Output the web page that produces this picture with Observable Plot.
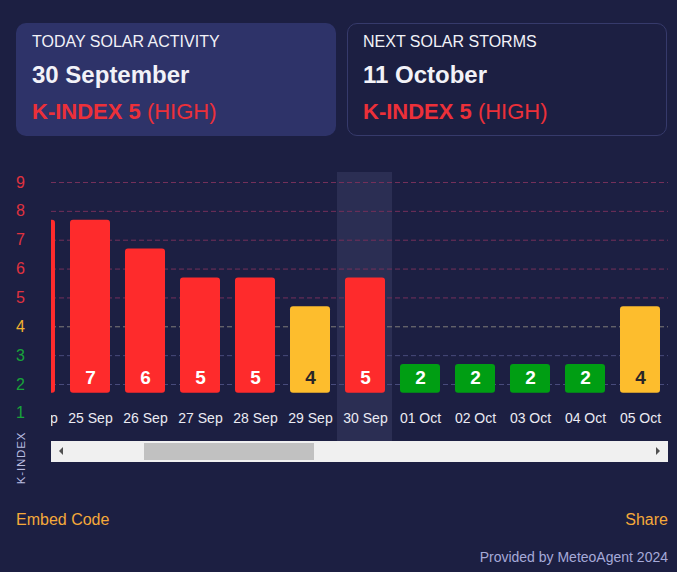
<!DOCTYPE html>
<html>
<head>
<meta charset="utf-8">
<script src="https://cdn.jsdelivr.net/npm/d3@7"></script>
<script src="https://cdn.jsdelivr.net/npm/@observablehq/plot@0.6"></script>
<style>
  html, body { margin: 0; padding: 0; }
  body { width: 677px; height: 572px; background: #1c1f42; position: relative; overflow: hidden;
         font-family: "Liberation Sans", Arial, sans-serif; color: #f2f2f8; }
  .card { position: absolute; top: 23px; height: 113px; width: 320px; border-radius: 10px; box-sizing: border-box; }
  .card .t { position: absolute; left: 16px; top: 9px; font-size: 16px; line-height: 20px; white-space: nowrap; }
  .card .d { position: absolute; left: 16px; top: 38px; font-size: 24px; line-height: 28px; font-weight: bold; white-space: nowrap; }
  .card .k { position: absolute; left: 16px; top: 75px; font-size: 22px; line-height: 28px; color: #ec3039; white-space: nowrap; }
  .card .k b { font-weight: bold; }
  #chart { position: absolute; left: 0; top: 160px; }
  .scroll { position: absolute; left: 51px; top: 441px; width: 617px; height: 21px; background: #f0f0f0; }
  .thumb { position: absolute; left: 93px; top: 2px; width: 170px; height: 17px; background: #c1c1c1; }
  .arrL { position: absolute; left: 8px; top: 6px; width: 0; height: 0; border-top: 4.5px solid transparent; border-bottom: 4.5px solid transparent; border-right: 4.5px solid #505050; }
  .arrR { position: absolute; right: 8px; top: 6px; width: 0; height: 0; border-top: 4.5px solid transparent; border-bottom: 4.5px solid transparent; border-left: 4.5px solid #505050; }
  .ylab { position: absolute; left: 21px; top: 458px; transform: translate(-50%, -50%) rotate(-90deg); font-size: 11.5px; letter-spacing: 0.8px; color: #b9bde0; white-space: nowrap; }
  .embed { position: absolute; left: 16px; top: 510px; font-size: 16px; line-height: 20px; color: #f5a93a; }
  .share { position: absolute; right: 9px; top: 510px; font-size: 16px; line-height: 20px; color: #f5a93a; }
  .prov { position: absolute; right: 9px; top: 548px; font-size: 14px; line-height: 18px; color: #a6aad9; }
</style>
</head>
<body>
<div class="card" style="left:16px; background:#2e3369;">
  <div class="t">TODAY SOLAR ACTIVITY</div>
  <div class="d">30 September</div>
  <div class="k"><b>K-INDEX 5</b> (HIGH)</div>
</div>
<div class="card" style="left:347px; border:1px solid #363a6b;">
  <div class="t" style="left:15px; top:8px;">NEXT SOLAR STORMS</div>
  <div class="d" style="left:15px; top:37px;">11 October</div>
  <div class="k" style="left:15px; top:74px;"><b>K-INDEX 5</b> (HIGH)</div>
</div>
<div id="chart"></div>
<div class="scroll"><div class="arrL"></div><div class="thumb"></div><div class="arrR"></div></div>
<div class="ylab">K-INDEX</div>
<div class="embed">Embed Code</div>
<div class="share">Share</div>
<div class="prov">Provided by MeteoAgent 2024</div>
<script>
const dates = ["24 Sep","25 Sep","26 Sep","27 Sep","28 Sep","29 Sep","30 Sep","01 Oct","02 Oct","03 Oct","04 Oct","05 Oct"];
const kIndex = [7,7,6,5,5,4,5,2,2,2,2,4];
const today = "30 Sep";
const yTicks = [1,2,3,4,5,6,7,8,9];
const gridValues = [2,3,4,5,6,7,8,9];

const data = dates.map((d, i) => ({date: d, k: kIndex[i]}));
const barColor = k => k >= 5 ? "#fe2b2c" : k === 4 ? "#fdbd2d" : "#009e13";
const labelColor = k => k === 4 ? "#2a2626" : "#ffffff";
const tickColor = k => k >= 5 ? "#e0323f" : k === 4 ? "#f2b12e" : "#18a33a";
const gridColor = k => k >= 5 ? "#74305a" : k === 4 ? "#7f7d7a" : "#484b7c";

const chart = Plot.plot({
  width: 677, height: 285,
  marginLeft: 51, marginRight: 9, marginTop: 12, marginBottom: 4,
  style: {background: "transparent", fontFamily: "Liberation Sans, Arial, sans-serif", overflow: "visible"},
  x: {type: "band", domain: dates, range: [7.5, 667.5], paddingInner: 15/55, paddingOuter: 7.5/55, axis: null},
  y: {domain: [1, 9], range: [252.86, 22], axis: null},
  color: {type: "identity"},
  marks: [
    Plot.cell([today], {x: d => d, fill: "#c8ccff", fillOpacity: 0.09, insetLeft: -8, insetRight: -7, clip: true}),
    Plot.ruleY(gridValues, {y: d => d, stroke: gridColor, strokeDasharray: "5,3", strokeWidth: 1}),
    Plot.rectY(data, {x: "date", y1: 1, y2: "k", dy: -20, fill: d => barColor(d.k), rx: 3, clip: true}),
    Plot.text(data, {x: "date", y: 1, dy: -35, text: d => String(d.k), fill: d => labelColor(d.k), fontSize: 19, fontWeight: "bold", clip: true}),
    Plot.text(data, {x: "date", y: 1, dy: 5, text: "date", fill: "#ebebf3", fontSize: 14, clip: true}),
    Plot.text(yTicks, {y: d => d, text: d => String(d), frameAnchor: "left", dx: -31, textAnchor: "middle", fill: tickColor, fontSize: 16})
  ]
});
document.getElementById("chart").appendChild(chart);
</script>
</body>
</html>
